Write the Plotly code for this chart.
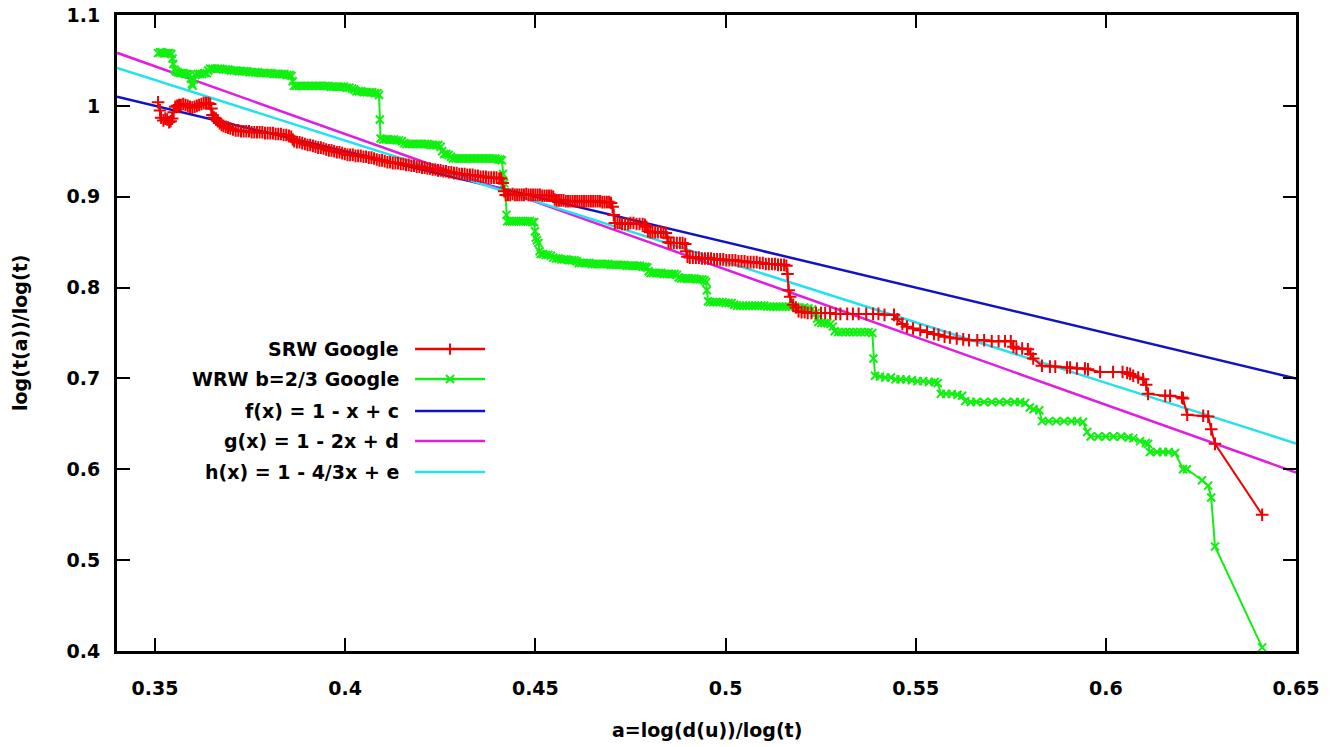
import plotly.graph_objects as go

# ---- series: SRW Google (red, "+" points), as (a, log t(a)/log t) pairs ----
srw_points = [
    (0.3508, 1.004), (0.3513, 0.995), (0.3516, 0.987), (0.3522, 0.984), (0.3527, 0.986),
    (0.3532, 0.985), (0.3537, 0.982), (0.3541, 0.983), (0.3545, 0.986), (0.3549, 0.993),
    (0.3553, 0.999), (0.3558, 1.000), (0.3563, 1.001), (0.3568, 1.001), (0.3574, 1.002),
    (0.3580, 1.001), (0.3586, 1.000), (0.3592, 0.999), (0.3598, 0.998), (0.3604, 0.999),
    (0.3610, 1.000), (0.3616, 1.001), (0.3622, 1.002), (0.3628, 1.003), (0.3634, 1.003),
    (0.3640, 1.003), (0.3645, 1.002), (0.3648, 0.997), (0.3651, 0.990), (0.3655, 0.987),
    (0.3660, 0.986), (0.3665, 0.983), (0.3670, 0.981), (0.3675, 0.979), (0.3680, 0.978),
    (0.3686, 0.977), (0.3692, 0.976), (0.3698, 0.975),
    (0.3705, 0.974), (0.3712, 0.973), (0.3719, 0.973), (0.3726, 0.972), (0.3733, 0.972),
    (0.3740, 0.972), (0.3747, 0.972), (0.3754, 0.971), (0.3761, 0.971), (0.3768, 0.971),
    (0.3775, 0.971), (0.3782, 0.971), (0.3789, 0.970), (0.3796, 0.970), (0.3803, 0.970),
    (0.3810, 0.970), (0.3817, 0.969), (0.3824, 0.969), (0.3831, 0.969), (0.3838, 0.968),
    (0.3845, 0.968), (0.3852, 0.967), (0.3858, 0.966), (0.3862, 0.963), (0.3866, 0.961),
    (0.3873, 0.960), (0.3880, 0.960), (0.3887, 0.959), (0.3894, 0.958), (0.3901, 0.957),
    (0.3908, 0.957), (0.3915, 0.956), (0.3922, 0.955), (0.3929, 0.954), (0.3936, 0.954),
    (0.3943, 0.953), (0.3950, 0.952), (0.3957, 0.951), (0.3964, 0.951), (0.3971, 0.950),
    (0.3978, 0.949), (0.3985, 0.949), (0.3992, 0.948), (0.3999, 0.947), (0.4006, 0.946),
    (0.4013, 0.946), (0.4020, 0.946), (0.4027, 0.945), (0.4034, 0.945), (0.4041, 0.945),
    (0.4048, 0.944), (0.4055, 0.944), (0.4062, 0.943), (0.4069, 0.943), (0.4076, 0.942),
    (0.4083, 0.941), (0.4090, 0.940), (0.4097, 0.940), (0.4104, 0.939), (0.4111, 0.938),
    (0.4118, 0.938), (0.4125, 0.937), (0.4132, 0.937), (0.4139, 0.937), (0.4146, 0.936),
    (0.4153, 0.936), (0.4160, 0.935), (0.4167, 0.935), (0.4174, 0.934), (0.4181, 0.934),
    (0.4188, 0.933), (0.4195, 0.933), (0.4202, 0.932), (0.4209, 0.932), (0.4216, 0.931),
    (0.4223, 0.931), (0.4230, 0.930), (0.4237, 0.930), (0.4244, 0.929), (0.4251, 0.929),
    (0.4258, 0.928), (0.4265, 0.928), (0.4272, 0.927), (0.4279, 0.927), (0.4286, 0.926),
    (0.4293, 0.926), (0.4300, 0.925), (0.4307, 0.925), (0.4314, 0.925), (0.4321, 0.924),
    (0.4328, 0.924), (0.4335, 0.924), (0.4342, 0.923), (0.4349, 0.923), (0.4356, 0.922),
    (0.4363, 0.922), (0.4370, 0.922), (0.4377, 0.921), (0.4384, 0.921), (0.4391, 0.921),
    (0.4398, 0.921), (0.4405, 0.920), (0.4410, 0.920),
    (0.4414, 0.915), (0.4418, 0.906), (0.4422, 0.902),
    (0.4428, 0.902), (0.4434, 0.902), (0.4440, 0.903), (0.4446, 0.902), (0.4452, 0.902),
    (0.4458, 0.902), (0.4464, 0.902), (0.4470, 0.902), (0.4476, 0.903), (0.4482, 0.902),
    (0.4488, 0.902), (0.4494, 0.902), (0.4500, 0.902), (0.4506, 0.902), (0.4512, 0.902),
    (0.4518, 0.901), (0.4524, 0.901), (0.4530, 0.901), (0.4536, 0.901), (0.4542, 0.901),
    (0.4547, 0.900), (0.4551, 0.897),
    (0.4556, 0.896), (0.4562, 0.896), (0.4568, 0.896), (0.4574, 0.896), (0.4580, 0.895),
    (0.4586, 0.895), (0.4592, 0.895), (0.4598, 0.895), (0.4604, 0.895), (0.4610, 0.895),
    (0.4616, 0.895), (0.4622, 0.895), (0.4628, 0.895), (0.4634, 0.895), (0.4640, 0.895),
    (0.4646, 0.895), (0.4652, 0.895), (0.4658, 0.895), (0.4664, 0.895), (0.4670, 0.895),
    (0.4676, 0.894), (0.4682, 0.894), (0.4688, 0.894), (0.4694, 0.894), (0.4699, 0.893),
    (0.4703, 0.889), (0.4706, 0.880), (0.4709, 0.871),
    (0.4716, 0.871), (0.4722, 0.871), (0.4728, 0.870), (0.4736, 0.870), (0.4744, 0.870),
    (0.4750, 0.871), (0.4758, 0.871), (0.4766, 0.870), (0.4774, 0.870), (0.4782, 0.870),
    (0.4788, 0.869), (0.4792, 0.867), (0.4796, 0.862), (0.4802, 0.861), (0.4808, 0.861),
    (0.4815, 0.861), (0.4822, 0.861), (0.4830, 0.861), (0.4837, 0.860), (0.4843, 0.860),
    (0.4847, 0.855), (0.4850, 0.850), (0.4856, 0.849), (0.4864, 0.849), (0.4872, 0.849),
    (0.4880, 0.849), (0.4887, 0.849), (0.4894, 0.848), (0.4897, 0.840), (0.4900, 0.834),
    (0.4906, 0.833), (0.4914, 0.833), (0.4922, 0.833), (0.4930, 0.833), (0.4938, 0.832),
    (0.4946, 0.832), (0.4954, 0.832), (0.4962, 0.832), (0.4970, 0.831), (0.4978, 0.831),
    (0.4986, 0.831), (0.4994, 0.831), (0.5002, 0.830), (0.5010, 0.830), (0.5018, 0.830),
    (0.5026, 0.830), (0.5034, 0.829), (0.5042, 0.829), (0.5050, 0.829), (0.5058, 0.828),
    (0.5066, 0.828), (0.5074, 0.828), (0.5082, 0.828), (0.5090, 0.827), (0.5098, 0.827),
    (0.5106, 0.826), (0.5114, 0.826), (0.5122, 0.826), (0.5130, 0.826), (0.5138, 0.825),
    (0.5146, 0.825), (0.5154, 0.825), (0.5160, 0.824),
    (0.5163, 0.815), (0.5166, 0.797), (0.5170, 0.790), (0.5178, 0.781), (0.5185, 0.778),
    (0.5192, 0.774), (0.5200, 0.773), (0.5208, 0.773), (0.5216, 0.772), (0.5226, 0.772),
    (0.5238, 0.772), (0.5251, 0.772), (0.5262, 0.772), (0.5275, 0.772), (0.5290, 0.771),
    (0.5302, 0.771), (0.5320, 0.771), (0.5335, 0.771), (0.5350, 0.771), (0.5370, 0.771),
    (0.5388, 0.771), (0.5402, 0.771), (0.5418, 0.770), (0.5443, 0.770),
    (0.5452, 0.765), (0.5465, 0.760), (0.5477, 0.757), (0.5493, 0.755), (0.5512, 0.753),
    (0.5530, 0.751), (0.5548, 0.749), (0.5560, 0.748), (0.5576, 0.746), (0.5590, 0.745),
    (0.5608, 0.744), (0.5625, 0.743), (0.5640, 0.742), (0.5662, 0.742), (0.5680, 0.742),
    (0.5700, 0.741), (0.5718, 0.741), (0.5735, 0.741), (0.5750, 0.741), (0.5757, 0.735),
    (0.5765, 0.733), (0.5780, 0.733), (0.5795, 0.732), (0.5802, 0.727), (0.5809, 0.722),
    (0.5832, 0.714), (0.5853, 0.713), (0.5867, 0.713), (0.5898, 0.712), (0.5906, 0.712),
    (0.5924, 0.711), (0.5945, 0.711), (0.5953, 0.710), (0.5985, 0.707), (0.6019, 0.707),
    (0.6044, 0.707), (0.6056, 0.706), (0.6064, 0.705), (0.6072, 0.703), (0.6085, 0.701),
    (0.6098, 0.699), (0.6106, 0.693), (0.6111, 0.683), (0.6156, 0.681), (0.6169, 0.681),
    (0.6200, 0.679), (0.6203, 0.678), (0.6214, 0.660), (0.6256, 0.659), (0.6269, 0.658),
    (0.6277, 0.644), (0.6287, 0.628), (0.6411, 0.550),
]

# ---- series: WRW b=2/3 Google (green, "x" points) ----
wrw_points = [
    (0.3508, 1.058), (0.3513, 1.059), (0.3518, 1.059), (0.3523, 1.058), (0.3528, 1.058),
    (0.3533, 1.058), (0.3538, 1.058), (0.3543, 1.057), (0.3546, 1.052), (0.3548, 1.046),
    (0.3551, 1.040), (0.3555, 1.038), (0.3560, 1.037), (0.3565, 1.036), (0.3570, 1.036),
    (0.3575, 1.036), (0.3580, 1.035), (0.3585, 1.035), (0.3590, 1.034), (0.3594, 1.030),
    (0.3597, 1.024), (0.3599, 1.022), (0.3602, 1.029), (0.3606, 1.034), (0.3612, 1.035),
    (0.3618, 1.035), (0.3624, 1.035), (0.3630, 1.036), (0.3636, 1.036), (0.3640, 1.039),
    (0.3645, 1.041),
    (0.3651, 1.041), (0.3658, 1.041), (0.3665, 1.041), (0.3672, 1.041), (0.3679, 1.040),
    (0.3686, 1.040), (0.3693, 1.040), (0.3700, 1.039), (0.3707, 1.039), (0.3714, 1.039),
    (0.3721, 1.038), (0.3728, 1.038), (0.3735, 1.038), (0.3742, 1.038), (0.3749, 1.037),
    (0.3756, 1.037), (0.3763, 1.037), (0.3770, 1.037), (0.3777, 1.036), (0.3784, 1.036),
    (0.3791, 1.036), (0.3798, 1.036), (0.3805, 1.036), (0.3812, 1.035), (0.3819, 1.035),
    (0.3826, 1.035), (0.3833, 1.035), (0.3840, 1.035), (0.3847, 1.034), (0.3854, 1.034),
    (0.3859, 1.033), (0.3862, 1.027), (0.3865, 1.022),
    (0.3871, 1.022), (0.3878, 1.022), (0.3885, 1.022), (0.3892, 1.022), (0.3899, 1.022),
    (0.3906, 1.022), (0.3913, 1.022), (0.3920, 1.022), (0.3927, 1.022), (0.3934, 1.022),
    (0.3941, 1.022), (0.3948, 1.022), (0.3955, 1.022), (0.3962, 1.021), (0.3969, 1.021),
    (0.3976, 1.021), (0.3983, 1.021), (0.3990, 1.021), (0.3997, 1.021), (0.4004, 1.020),
    (0.4011, 1.020), (0.4018, 1.019), (0.4024, 1.018), (0.4029, 1.016), (0.4036, 1.016),
    (0.4043, 1.016), (0.4050, 1.015), (0.4057, 1.015), (0.4064, 1.015), (0.4071, 1.015),
    (0.4078, 1.014), (0.4085, 1.014), (0.4089, 1.012), (0.4091, 0.985), (0.4093, 0.964),
    (0.4100, 0.963), (0.4107, 0.963), (0.4114, 0.963), (0.4121, 0.963), (0.4128, 0.963),
    (0.4135, 0.962), (0.4142, 0.962), (0.4149, 0.961), (0.4155, 0.959), (0.4161, 0.958),
    (0.4168, 0.958), (0.4175, 0.958), (0.4182, 0.958), (0.4189, 0.958), (0.4196, 0.958),
    (0.4203, 0.958), (0.4210, 0.958), (0.4217, 0.958), (0.4224, 0.957), (0.4231, 0.957),
    (0.4238, 0.957), (0.4245, 0.957), (0.4251, 0.955), (0.4255, 0.950), (0.4260, 0.947),
    (0.4266, 0.947), (0.4272, 0.946), (0.4278, 0.944), (0.4283, 0.942), (0.4290, 0.942),
    (0.4297, 0.942), (0.4304, 0.942), (0.4311, 0.942), (0.4318, 0.942), (0.4325, 0.942),
    (0.4332, 0.942), (0.4339, 0.942), (0.4346, 0.942), (0.4353, 0.942), (0.4360, 0.942),
    (0.4367, 0.942), (0.4374, 0.942), (0.4381, 0.942), (0.4388, 0.942), (0.4395, 0.942),
    (0.4402, 0.941), (0.4408, 0.941), (0.4412, 0.940), (0.4415, 0.925), (0.4418, 0.915),
    (0.4421, 0.905), (0.4424, 0.880), (0.4426, 0.873),
    (0.4432, 0.873), (0.4438, 0.873), (0.4444, 0.873), (0.4450, 0.873), (0.4456, 0.873),
    (0.4462, 0.873), (0.4468, 0.873), (0.4474, 0.873), (0.4480, 0.873), (0.4486, 0.873),
    (0.4492, 0.872), (0.4497, 0.872), (0.4499, 0.862), (0.4501, 0.855), (0.4504, 0.852),
    (0.4508, 0.849), (0.4511, 0.840), (0.4514, 0.837),
    (0.4520, 0.837), (0.4527, 0.836), (0.4534, 0.836), (0.4541, 0.835), (0.4547, 0.833),
    (0.4554, 0.832), (0.4561, 0.832), (0.4568, 0.831), (0.4575, 0.831), (0.4582, 0.831),
    (0.4589, 0.830), (0.4596, 0.830), (0.4603, 0.830), (0.4609, 0.829), (0.4614, 0.827),
    (0.4621, 0.827), (0.4628, 0.827), (0.4635, 0.827), (0.4642, 0.827), (0.4649, 0.826),
    (0.4656, 0.826), (0.4663, 0.826), (0.4670, 0.826), (0.4677, 0.826), (0.4684, 0.826),
    (0.4691, 0.826), (0.4698, 0.825), (0.4705, 0.825), (0.4712, 0.825), (0.4719, 0.825),
    (0.4726, 0.825), (0.4733, 0.825), (0.4740, 0.824), (0.4747, 0.824), (0.4754, 0.824),
    (0.4761, 0.824), (0.4768, 0.824), (0.4775, 0.824), (0.4782, 0.823), (0.4789, 0.823),
    (0.4794, 0.822), (0.4798, 0.818), (0.4803, 0.816), (0.4810, 0.816), (0.4817, 0.816),
    (0.4824, 0.816), (0.4831, 0.816), (0.4838, 0.815), (0.4845, 0.815), (0.4852, 0.815),
    (0.4859, 0.815), (0.4866, 0.815), (0.4872, 0.814), (0.4877, 0.811), (0.4883, 0.810),
    (0.4890, 0.810), (0.4897, 0.810), (0.4904, 0.810), (0.4911, 0.810), (0.4918, 0.810),
    (0.4925, 0.809), (0.4932, 0.809), (0.4939, 0.809), (0.4945, 0.808), (0.4949, 0.806),
    (0.4951, 0.797), (0.4954, 0.785),
    (0.4960, 0.784), (0.4968, 0.784), (0.4976, 0.784), (0.4984, 0.784), (0.4992, 0.784),
    (0.5000, 0.783), (0.5008, 0.783), (0.5016, 0.783), (0.5023, 0.781), (0.5030, 0.780),
    (0.5038, 0.780), (0.5046, 0.780), (0.5054, 0.780), (0.5062, 0.780), (0.5070, 0.780),
    (0.5078, 0.780), (0.5086, 0.780), (0.5094, 0.780), (0.5102, 0.780), (0.5110, 0.779),
    (0.5118, 0.779), (0.5126, 0.779), (0.5134, 0.779), (0.5142, 0.779), (0.5150, 0.779),
    (0.5158, 0.779), (0.5166, 0.779), (0.5174, 0.779), (0.5183, 0.779), (0.5195, 0.778),
    (0.5207, 0.778), (0.5218, 0.777), (0.5228, 0.776), (0.5237, 0.772), (0.5241, 0.766),
    (0.5244, 0.762), (0.5252, 0.761), (0.5260, 0.761), (0.5268, 0.761), (0.5276, 0.760),
    (0.5282, 0.757), (0.5287, 0.752), (0.5296, 0.751), (0.5306, 0.751), (0.5316, 0.751),
    (0.5326, 0.751), (0.5336, 0.751), (0.5346, 0.751), (0.5356, 0.751), (0.5366, 0.751),
    (0.5376, 0.751), (0.5386, 0.750), (0.5389, 0.722), (0.5393, 0.703),
    (0.5406, 0.702), (0.5420, 0.701), (0.5435, 0.701), (0.5447, 0.699), (0.5460, 0.699),
    (0.5475, 0.699), (0.5490, 0.698), (0.5505, 0.697), (0.5520, 0.697), (0.5535, 0.696),
    (0.5550, 0.696), (0.5558, 0.695), (0.5566, 0.683), (0.5580, 0.683), (0.5595, 0.683),
    (0.5610, 0.682), (0.5622, 0.681), (0.5630, 0.675), (0.5645, 0.674), (0.5660, 0.674),
    (0.5680, 0.674), (0.5700, 0.674), (0.5720, 0.674), (0.5740, 0.674), (0.5760, 0.674),
    (0.5775, 0.674), (0.5788, 0.673), (0.5800, 0.668), (0.5810, 0.666), (0.5825, 0.665),
    (0.5832, 0.653), (0.5850, 0.653), (0.5870, 0.653), (0.5890, 0.653), (0.5910, 0.653),
    (0.5925, 0.653), (0.5940, 0.652), (0.5951, 0.641), (0.5960, 0.636), (0.5980, 0.636),
    (0.6000, 0.636), (0.6020, 0.636), (0.6040, 0.636), (0.6060, 0.635), (0.6072, 0.634),
    (0.6090, 0.631), (0.6105, 0.629), (0.6111, 0.628), (0.6116, 0.619), (0.6135, 0.619),
    (0.6150, 0.619), (0.6165, 0.619), (0.6182, 0.618), (0.6203, 0.600), (0.6213, 0.600),
    (0.6253, 0.588), (0.6269, 0.582), (0.6277, 0.569), (0.6287, 0.515), (0.6411, 0.404),
]

srw_x = [p[0] for p in srw_points]
srw_y = [p[1] for p in srw_points]
wrw_x = [p[0] for p in wrw_points]
wrw_y = [p[1] for p in wrw_points]

# ---- fitted reference lines y = intercept + slope * x ----
fit_names = ["f(x) = 1 - x + c", "g(x) = 1 - 2x + d", "h(x) = 1 - 4/3x + e"]
fit_slopes = [-1.0, -1.49, -4.0 / 3.0]
fit_intercepts = [1.350, 1.565, 1.4951]
fit_colors = ["#1212c4", "#e01ee0", "#22e2f0"]
fit_x = [0.34, 0.65]

x_ticks = [0.35, 0.40, 0.45, 0.50, 0.55, 0.60, 0.65]
x_tick_text = ["0.35", "0.4", "0.45", "0.5", "0.55", "0.6", "0.65"]
y_ticks = [0.4, 0.5, 0.6, 0.7, 0.8, 0.9, 1.0, 1.1]
y_tick_text = ["0.4", "0.5", "0.6", "0.7", "0.8", "0.9", "1", "1.1"]

series_names = ["SRW Google", "WRW b=2/3 Google"]
RED = "#f00000"
GREEN = "#10f010"

FONT = dict(family="DejaVu Sans, Verdana, sans-serif", size=19, color="black", weight="bold")

fig = go.Figure()

# fitted lines (drawn beneath the data)
for name, m, b, col in zip(fit_names, fit_slopes, fit_intercepts, fit_colors):
    fig.add_trace(go.Scatter(
        x=fit_x, y=[b + m * v for v in fit_x], mode="lines", name=name,
        line=dict(color=col, width=2.5), showlegend=False, hoverinfo="skip",
    ))

fig.add_trace(go.Scatter(
    x=wrw_x, y=wrw_y, mode="lines+markers", name=series_names[1],
    line=dict(color=GREEN, width=2),
    marker=dict(symbol="x-thin", size=8, line=dict(color=GREEN, width=2)),
    showlegend=False,
))
fig.add_trace(go.Scatter(
    x=srw_x, y=srw_y, mode="lines+markers", name=series_names[0],
    line=dict(color=RED, width=2),
    marker=dict(symbol="cross-thin", size=9, line=dict(color=RED, width=2)),
    showlegend=False,
))

# ---- key, drawn on an overlay axis spanning the plot area (0..1) ----
key_rows = [0.4748, 0.4277, 0.3774, 0.3302, 0.2814]
key_labels = series_names + fit_names
key_colors = [RED, GREEN] + fit_colors
key_symbols = ["cross-thin", "x-thin", None, None, None]
key_x0, key_x1, key_xm, key_text_x = 0.2528, 0.3122, 0.2825, 0.2410

for yk, lab, col, sym in zip(key_rows, key_labels, key_colors, key_symbols):
    fig.add_trace(go.Scatter(
        x=[key_x0, key_x1], y=[yk, yk], xaxis="x2", yaxis="y2", mode="lines",
        line=dict(color=col, width=2.5), showlegend=False, hoverinfo="skip",
    ))
    if sym:
        fig.add_trace(go.Scatter(
            x=[key_xm], y=[yk], xaxis="x2", yaxis="y2", mode="markers",
            marker=dict(symbol=sym, size=8, line=dict(color=col, width=2)),
            showlegend=False, hoverinfo="skip",
        ))
    fig.add_annotation(
        x=key_text_x, y=yk, xref="paper", yref="paper", text=lab,
        showarrow=False, xanchor="right", yanchor="middle", font=FONT,
    )

# axis titles
fig.add_annotation(
    x=0.5, y=-0.124, xref="paper", yref="paper", text="a=log(d(u))/log(t)",
    showarrow=False, xanchor="center", yanchor="middle", font=FONT,
)
fig.add_annotation(
    x=-0.0823, y=0.5, xref="paper", yref="paper", text="log(t(a))/log(t)",
    showarrow=False, xanchor="center", yanchor="middle", textangle=-90, font=FONT,
)

axis_common = dict(
    showline=True, linewidth=3, linecolor="black", mirror="ticks",
    ticks="inside", ticklen=13, tickwidth=2, tickcolor="black",
    showgrid=False, zeroline=False, tickfont=FONT, automargin=False,
)

fig.update_layout(
    width=1339, height=747, autosize=False,
    margin=dict(l=117, r=43, t=15, b=96),
    paper_bgcolor="white", plot_bgcolor="white",
    font=FONT,
    xaxis=dict(range=[0.34, 0.65], tickvals=x_ticks, ticktext=x_tick_text,
               ticklabelstandoff=18, **axis_common),
    yaxis=dict(range=[0.4, 1.1], tickvals=y_ticks, ticktext=y_tick_text,
               ticklabelstandoff=10, **axis_common),
    xaxis2=dict(range=[0, 1], overlaying="x", visible=False, fixedrange=True),
    yaxis2=dict(range=[0, 1], overlaying="y", visible=False, fixedrange=True),
    showlegend=False,
)

fig.write_html("out.html")
